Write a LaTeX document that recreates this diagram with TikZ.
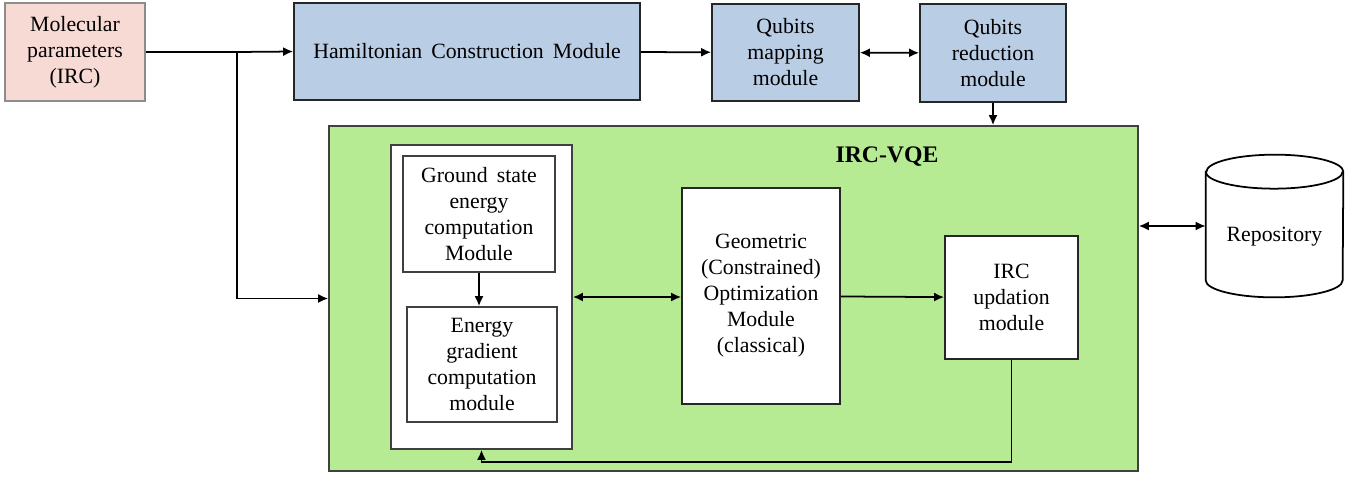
\documentclass[tikz,border=0pt]{standalone}
\usepackage{fontspec}
\setmainfont{Liberation Serif}
\usetikzlibrary{arrows.meta}

\definecolor{molpink}{HTML}{F8DAD4}
\definecolor{modblue}{HTML}{B9CDE5}
\definecolor{vqegreen}{HTML}{B6EB93}

\begin{document}
\begin{tikzpicture}[x=0.02cm,y=-0.02cm,
  box/.style={draw=black!85,line width=1pt,align=center,inner sep=0pt,font=\fontsize{12.4}{14.8}\selectfont},
  link/.style={line width=1pt,-{Latex[length=2mm,width=1.8mm]}},
  both/.style={line width=1pt,{Latex[length=2mm,width=1.8mm]}-{Latex[length=2mm,width=1.8mm]}}]
  \useasboundingbox (0,0) rectangle (1361,477);

  % top row
  \node[box,draw=black!45,fill=molpink,minimum width=2.8cm,minimum height=1.96cm] (mol) at (75,52) {Molecular\\parameters\\(IRC)};
  \node[box,fill=modblue,minimum width=6.92cm,minimum height=1.94cm] (ham) at (467,51.5) {Hamiltonian\ \,Construction\ \,Module};
  \node[box,fill=modblue,minimum width=2.94cm,minimum height=1.94cm] (map) at (785.5,52.5) {Qubits\\mapping\\module};
  \node[box,fill=modblue,minimum width=2.92cm,minimum height=1.96cm] (red) at (993,53) {Qubits\\reduction\\module};

  % IRC-VQE block
  \node[box,draw=black!75,fill=vqegreen,minimum width=16.18cm,minimum height=6.9cm] (vqe) at (733.5,298.5) {};
  \node[font=\fontsize{13.5}{16}\selectfont\bfseries] (vqelabel) at (887,157) {IRC-VQE};
  \node[box,draw=black!75,fill=white,minimum width=3.62cm,minimum height=6.08cm] (outer) at (481.5,297) {};
  \node[box,draw=black!75,fill=white,minimum width=3.04cm,minimum height=2.32cm] (ground) at (479,214) {Ground\ \,state\\energy\\computation\\Module};
  \node[box,draw=black!75,fill=white,minimum width=3.0cm,minimum height=2.3cm] (grad) at (482,364.5) {Energy\\gradient\\computation\\module};
  \node[box,fill=white,minimum width=3.16cm,minimum height=4.32cm] (geo) at (761,296) {Geometric\\(Constrained)\\Optimization\\Module\\(classical)};
  \node[box,fill=white,minimum width=2.66cm,minimum height=2.46cm] (upd) at (1011.5,297.5) {IRC\\updation\\module};

  % repository
  \node[minimum width=2.74cm,minimum height=2.84cm,inner sep=0pt] (repo) at (1274.5,226) {};
  \draw[line width=1pt,fill=white] ([yshift=-0.34cm]repo.north west) -- ([yshift=0.34cm]repo.south west)
    arc[start angle=180,end angle=360,x radius=1.37cm,y radius=0.34cm] -- ([yshift=-0.34cm]repo.north east)
    arc[start angle=0,end angle=180,x radius=1.37cm,y radius=0.34cm] -- cycle;
  \draw[line width=1pt] ([yshift=-0.34cm]repo.north west) arc[start angle=180,end angle=360,x radius=1.37cm,y radius=0.34cm];
  \node[font=\fontsize{12.4}{14.8}\selectfont] (repotext) at (1274.5,237) {Repository};

  % connectors
  \coordinate (split) at (237,52);
  \coordinate (loop) at (1011.5,462);
  \draw[line width=1pt] (mol.east) -- (split);
  \draw[link] (split) -- (ham.west);
  \draw[link] (split) |- (vqe.west);
  \draw[link] (ham) -- (map);
  \draw[both] (map) -- (red);
  \draw[link] (red.south) -- (red.south |- vqe.north);
  \draw[link] (ground.south) -- (ground.south |- grad.north);
  \draw[both] (outer.east) -- (outer.east -| geo.west);
  \draw[link] (geo) -- (upd);
  \draw[link] (upd.south) -- (loop) -| (outer.south);
  \draw[both] (vqe.east |- repo.west) -- (repo.west);
\end{tikzpicture}
\end{document}
